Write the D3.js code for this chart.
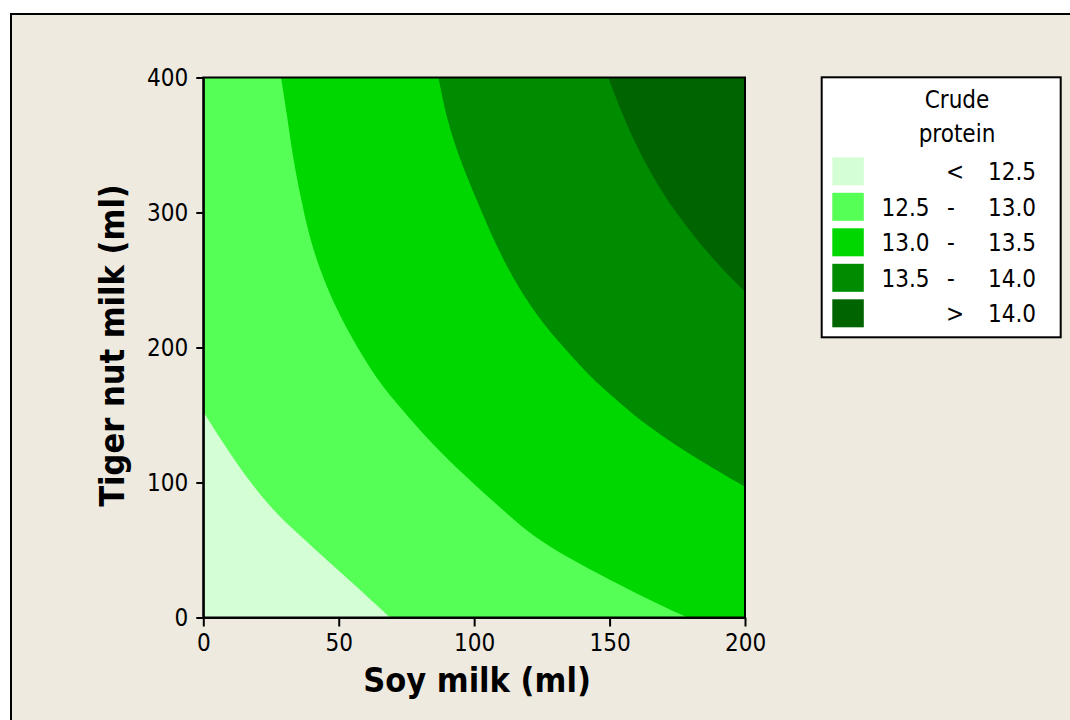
<!DOCTYPE html>
<html>
<head>
<meta charset="utf-8">
<script src="https://cdn.jsdelivr.net/npm/d3@7"></script>
<style>
  html, body { margin: 0; padding: 0; background: #ffffff; }
  svg { display: block; }
  text { font-family: "DejaVu Sans Condensed", "DejaVu Sans", sans-serif; fill: #000; }
</style>
</head>
<body>
<svg id="chart" width="1070" height="720"></svg>
<script>
// Axis ticks
const soyTicks = [0, 50, 100, 150, 200];
const tigerTicks = [0, 100, 200, 300, 400];

// Contour levels of crude protein and the band fill colours
const levels = [12.5, 13.0, 13.5, 14.0];
const bandColors = ["#d4ffd4", "#55ff55", "#00d700", "#008c00", "#006400"];
const bandLow = ["", "12.5", "13.0", "13.5", ""];
const bandSep = ["<", "-", "-", "-", ">"];
const bandHigh = ["12.5", "13.0", "13.5", "14.0", "14.0"];

// Contour lines, as [soy milk (ml), tiger nut milk (ml)]
const contour125 = [[0, 152.4], [7.4, 129], [14.8, 106.8], [24.6, 82.1], [32.0, 67.3],
  [44.3, 45.0], [56.6, 22.8], [68.9, 0]];
const contour130 = [[28.7, 400], [30.8, 373.5], [33.2, 338.9], [35.7, 314.2], [38.2, 289.5],
  [42.5, 259.9], [49.2, 227.8], [56.6, 200.6], [65.2, 173.5], [71.4, 158.7],
  [86.2, 124.1], [109.8, 80.9], [121.8, 59.9], [134.1, 45.0], [150.1, 27.8], [166.1, 11.7],
  [178.7, 0]];
const contour135 = [[86.8, 400], [89.9, 368.5], [94.8, 338.9], [100.9, 309.3],
  [109.8, 267.3], [120.6, 230.2], [130.5, 205.6], [142.7, 178.4], [152.6, 161.1],
  [162.4, 143.9], [180.9, 119.1], [200, 96.9]];
const contour140 = [[149.5, 400], [155.0, 371], [161.2, 343.8], [169.8, 313], [178.4, 289.5],
  [188.3, 264.8], [200, 241.3]];

const contours = [contour125, contour130, contour135, contour140];

const svg = d3.select("#chart");

// Figure frame
svg.append("rect")
  .attr("x", 11).attr("y", 14)
  .attr("width", 1120).attr("height", 800)
  .attr("fill", "#eeeae0")
  .attr("stroke", "#000").attr("stroke-width", 2);

const x = d3.scaleLinear().domain([0, 200]).range([203.3, 745]);
const y = d3.scaleLinear().domain([0, 400]).range([617.5, 77.5]);

svg.append("clipPath").attr("id", "plotClip")
  .append("rect")
  .attr("x", x(0)).attr("y", y(400))
  .attr("width", x(200) - x(0)).attr("height", y(0) - y(400));

const plot = svg.append("g").attr("clip-path", "url(#plotClip)");

// Lowest band fills the whole area
plot.append("rect")
  .attr("x", x(0)).attr("y", y(400))
  .attr("width", x(200) - x(0)).attr("height", y(0) - y(400))
  .attr("fill", bandColors[0]);

const curve = d3.line()
  .x(d => x(d[0])).y(d => y(d[1]))
  .curve(d3.curveBasis);

// Each higher band: its contour line closed round the upper-right corner
contours.forEach((pts, i) => {
  const last = pts[pts.length - 1];
  const extra = last[1] === 0 ? [[200, 0], [200, 400]] : [[200, 400]];
  if (pts[0][0] === 0) extra.push([0, 400]);
  const d = curve(pts) + extra.map(p => "L" + x(p[0]) + "," + y(p[1])).join("") + "Z";
  plot.append("path").attr("d", d).attr("fill", bandColors[i + 1]);
});

// Plot frame
svg.append("rect")
  .attr("x", x(0)).attr("y", y(400))
  .attr("width", x(200) - x(0)).attr("height", y(0) - y(400))
  .attr("fill", "none").attr("stroke", "#000").attr("stroke-width", 2);

// Axes
const xAxis = svg.append("g")
  .attr("transform", `translate(0,${y(0)})`)
  .call(d3.axisBottom(x).tickValues(soyTicks).tickSize(9).tickPadding(7).tickSizeOuter(0));
const yAxis = svg.append("g")
  .attr("transform", `translate(${x(0)},0)`)
  .call(d3.axisLeft(y).tickValues(tigerTicks).tickSize(7).tickPadding(8).tickSizeOuter(0));

[xAxis, yAxis].forEach(g => {
  g.select(".domain").attr("stroke", "#000").attr("stroke-width", 2);
  g.selectAll(".tick line").attr("stroke", "#000").attr("stroke-width", 2);
  g.selectAll(".tick text")
    .attr("fill", "#000")
    .style("font-family", '"DejaVu Sans Condensed", "DejaVu Sans", sans-serif')
    .style("font-size", "24px");
});

// Axis titles
svg.append("text")
  .attr("x", 477).attr("y", 692)
  .attr("text-anchor", "middle")
  .style("font-size", "34px").style("font-weight", "bold")
  .text("Soy milk (ml)");

svg.append("text")
  .attr("transform", `translate(124,${(y(0) + y(400)) / 2 - 2}) rotate(-90)`)
  .attr("text-anchor", "middle")
  .style("font-size", "34px").style("font-weight", "bold")
  .text("Tiger nut milk (ml)");

// Legend
const lg = svg.append("g");
lg.append("rect")
  .attr("x", 821.7).attr("y", 77.3)
  .attr("width", 239).attr("height", 260)
  .attr("fill", "#ffffff").attr("stroke", "#000").attr("stroke-width", 2);

lg.append("text").attr("x", 957).attr("y", 108)
  .attr("text-anchor", "middle").style("font-size", "24px").text("Crude");
lg.append("text").attr("x", 957).attr("y", 142)
  .attr("text-anchor", "middle").style("font-size", "24px").text("protein");

const rows = lg.selectAll("g.row")
  .data(bandColors.map((c, i) => ({ c, lo: bandLow[i], sep: bandSep[i], hi: bandHigh[i], i })))
  .join("g").attr("class", "row")
  .attr("transform", d => `translate(0,${157.3 + d.i * 35.5})`);

rows.append("rect")
  .attr("x", 832.3).attr("y", 0)
  .attr("width", 31.5).attr("height", 28)
  .attr("fill", d => d.c);

rows.append("text").attr("x", 929.5).attr("y", 23)
  .attr("text-anchor", "end").style("font-size", "24px").text(d => d.lo);
rows.append("text").attr("x", d => d.sep === "-" ? 951 : 955).attr("y", 23)
  .attr("text-anchor", "middle").style("font-size", "24px").text(d => d.sep);
rows.append("text").attr("x", 1036).attr("y", 23)
  .attr("text-anchor", "end").style("font-size", "24px").text(d => d.hi);
</script>
</body>
</html>
